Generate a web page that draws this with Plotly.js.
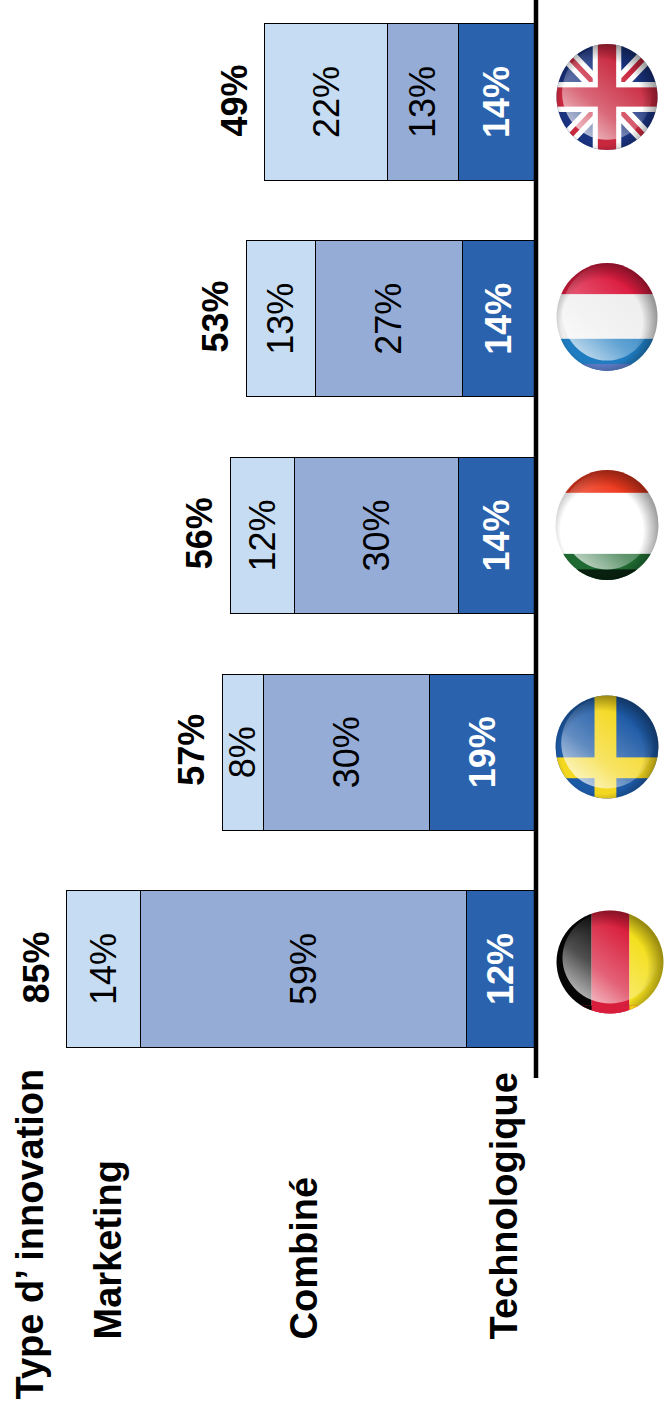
<!DOCTYPE html>
<html><head><meta charset="utf-8">
<script src="https://cdn.plot.ly/plotly-3.0.1.min.js"></script>
<style>html,body{margin:0;padding:0;background:#fff}#c{width:664px;height:1411px}</style>
</head><body><div id="c"></div>
<script>
const countries = ['Allemagne','Suède','Hongrie','Pays-Bas','Royaume-Uni'];
const technologique = [12.4,19.2,14,13.2,14];
const combine = [59.3,30.1,29.7,26.8,12.9];
const marketing = [13.4,7.6,11.7,12.5,22.2];
const technoLabels = ['12%','19%','14%','14%','14%'];
const combineLabels = ['59%','30%','30%','27%','13%'];
const marketingLabels = ['14%','8%','12%','13%','22%'];
const totalLabels = ['85%','57%','56%','53%','49%'];
const legendNames = ['Type d’ innovation','Marketing','Combiné','Technologique'];
const W=664,H=1411,BASE=535,LINEX=536,PXU=5.5,PITCH=216.75,CY0=969;

const bodyFont='"Liberation Sans",Arial,sans-serif';
const defs=`<defs><clipPath id="k"><circle cx="50" cy="50" r="49.5"/></clipPath>
<linearGradient id="g" x1="0.15" y1="1" x2="0.75" y2="0.25"><stop offset="0" stop-color="#fff" stop-opacity=".8"/><stop offset=".45" stop-color="#fff" stop-opacity=".3"/><stop offset="1" stop-color="#fff" stop-opacity="0"/></linearGradient>
<radialGradient id="e" cx=".45" cy=".55" r=".55"><stop offset=".72" stop-color="#000" stop-opacity="0"/><stop offset="1" stop-color="#000" stop-opacity=".38"/></radialGradient></defs>`;
function flag(inner,over){
 const s=`<svg xmlns="http://www.w3.org/2000/svg" width="220" height="220" viewBox="0 0 100 100" preserveAspectRatio="none">${defs}<g clip-path="url(#k)">${inner}<circle cx="50" cy="46" r="44" fill="url(#g)"/><rect width="100" height="100" fill="url(#e)"/>${over||''}</g></svg>`;
 return 'data:image/svg+xml;base64,'+btoa(s);
}
const flagImgs=[
 flag('<rect width="33" height="100" fill="#050505"/><rect x="33" width="35" height="100" fill="#d81e3c"/><rect x="68" width="32" height="100" fill="#f4df1c"/>','<rect y="92" x="0" width="100" height="8" fill="#d81e3c"/><rect y="92" width="33" height="8" fill="#050505"/><rect y="92" x="68" width="32" height="8" fill="#f0d010"/>'),
 flag('<rect width="100" height="100" fill="#1d5aa6"/><rect x="38" width="21" height="100" fill="#f4d820"/><rect y="60" width="100" height="20" fill="#f4d820"/>'),
 flag('<rect width="100" height="100" fill="#fff"/><rect width="100" height="21" fill="#ee3a1f"/><rect y="76" width="100" height="24" fill="#1f6a32"/><rect y="90" width="100" height="10" fill="#08200f"/>'),
 flag('<rect width="100" height="100" fill="#eeeeee"/><rect width="100" height="29" fill="#dc1c40"/><rect y="70" width="100" height="30" fill="#1f7cc0"/><rect y="93" width="100" height="7" fill="#5a78c0"/>'),
 flag('<rect width="100" height="100" fill="#1a3380"/><path d="M0 0L100 100M100 0L0 100" stroke="#fff" stroke-width="15"/><path d="M0 0L100 100M100 0L0 100" stroke="#c9283f" stroke-width="5"/><rect x="36" width="28" height="100" fill="#fff"/><rect y="36" width="100" height="28" fill="#fff"/><rect x="41" width="18" height="100" fill="#c9283f"/><rect y="41" width="100" height="18" fill="#c9283f"/>')
];
const flagCX=[610,607,607,607,607];
const flagCY=[962,747,525,317,97];
const flagW=[108,104,104,102,102];
const flagH=[104,104,111,109,107];
const images=flagImgs.map((src,i)=>({source:src,xref:'paper',yref:'paper',x:flagCX[i]/W,y:1-flagCY[i]/H,sizex:flagW[i]/W,sizey:flagH[i]/H,xanchor:'center',yanchor:'middle',sizing:'stretch',layer:'above'}));

function trace(name,vals,labels,color,fcolor,weight){
 return {type:'bar',orientation:'h',name,y:countries,x:vals,text:labels,texttemplate:'%{text}',textposition:'inside',insidetextanchor:'middle',textangle:-90,constraintext:'none',cliponaxis:false,
 textfont:{family:bodyFont,size:36,color:fcolor,weight:weight},
 marker:{color,line:{color:'#000',width:1}},width:0.72,hoverinfo:'skip',showlegend:false};
}
const data=[trace('Technologique',technologique,technoLabels,'#2a62ae','#fff',700),
 trace('Combiné',combine,combineLabels,'#95acd6','#000',400),
 trace('Marketing',marketing,marketingLabels,'#c6dcf2','#000',400)];

const anns=totalLabels.map((t,i)=>({x:technologique[i]+combine[i]+marketing[i],y:countries[i],xref:'x',yref:'y',text:t,showarrow:false,textangle:-90,xanchor:'right',xshift:-8,yshift:2,font:{family:bodyFont,size:36,color:'#000',weight:700}}));
const leg=[[29,1402,legendNames[0]],[107,1342,legendNames[1]],[303,1342,legendNames[2]],[503,1342,legendNames[3]]];
leg.forEach(l=>anns.push({xref:'paper',yref:'paper',x:l[0]/W,y:1-l[1]/H,text:l[2],showarrow:false,textangle:-90,xanchor:'center',yanchor:'bottom',font:{family:bodyFont,size:38,color:'#000',weight:700}}));

const layout={width:W,height:H,margin:{l:0,r:0,t:0,b:0},paper_bgcolor:'#fff',plot_bgcolor:'#fff',barmode:'stack',showlegend:false,
 xaxis:{range:[BASE/PXU,(BASE-W)/PXU],visible:false,fixedrange:true},
 yaxis:{type:'category',categoryorder:'array',categoryarray:countries,range:[-(H-CY0)/PITCH,CY0/PITCH],visible:false,fixedrange:true},
 shapes:[{type:'line',xref:'paper',yref:'paper',x0:LINEX/W,x1:LINEX/W,y0:1,y1:1-1078/H,line:{color:'#000',width:4.5}}],
 images,annotations:anns};
Plotly.newPlot('c',data,layout,{staticPlot:true,displayModeBar:false});
</script></body></html>
